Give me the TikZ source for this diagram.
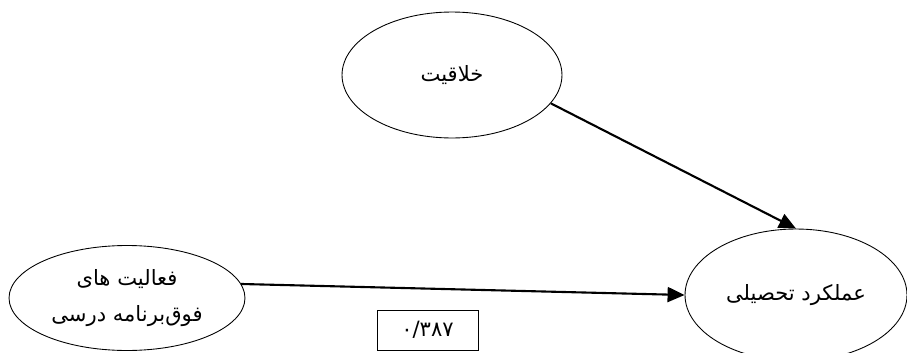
\documentclass[tikz,border=0pt]{standalone}
\usepackage{fontspec}
\newfontfamily\arabicfont[Script=Arabic]{DejaVu Sans}
\TeXXeTstate=1
\usetikzlibrary{arrows.meta, shapes.geometric}

\begin{document}
\begin{tikzpicture}[x=0.02cm, y=-0.02cm, >={Triangle[length=3.4mm, width=3mm]}, every node/.style={font=\arabicfont\fontsize{12}{20}\selectfont}, latent/.style={draw, ellipse, inner sep=0pt, line width=0.5pt, align=center}]
  \useasboundingbox (0,0) rectangle (907,352);
  \clip (0,0) rectangle (907,352);
  \node[latent, minimum width=4.4cm, minimum height=2.52cm] (creativity) at (452,75) {\beginR خلاقیت\endR};
  \node[latent, minimum width=4.72cm, minimum height=2.1cm] (extra) at (127,298) {\beginR فعالیت های\endR\\\beginR فوق‌برنامه درسی\endR};
  \node[latent, minimum width=4.44cm, minimum height=2.64cm] (perf) at (796,295) {\beginR عملکرد تحصیلی\endR};
  \node[draw, line width=0.5pt, minimum width=2.02cm, minimum height=0.8cm] (coef) at (427.5,330) {۰/۳۸۷};
  \draw[->, line width=1.2pt] (creativity.-16) -- (perf.north);
  \draw[->, line width=1.2pt] (extra.7) -- (perf.west);
\end{tikzpicture}
\end{document}
